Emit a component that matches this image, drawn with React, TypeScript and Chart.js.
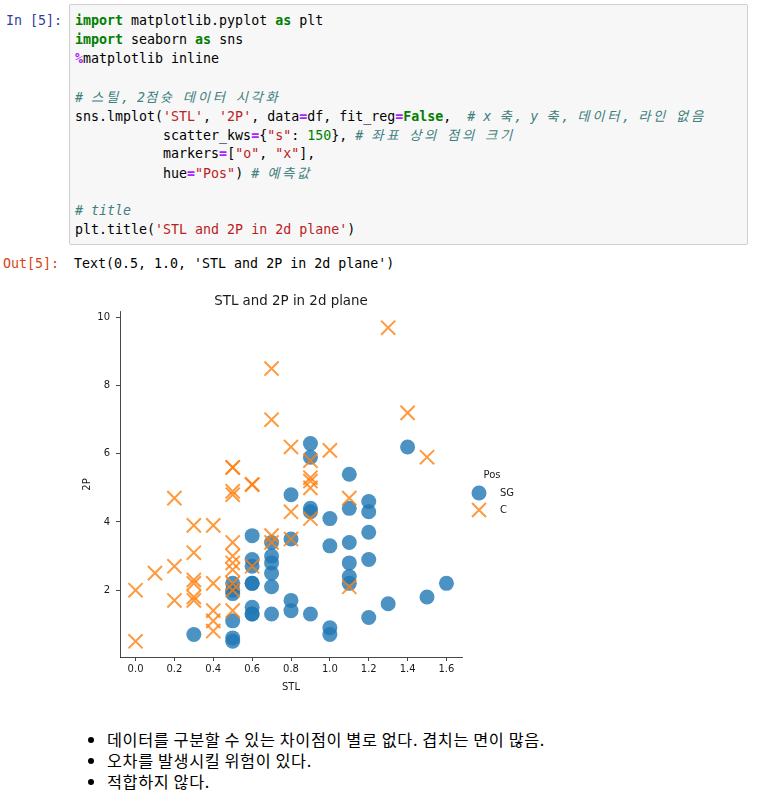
import React, { useEffect, useRef } from "react";
import { Chart, registerables } from "chart.js";

Chart.register(...registerables);

// ---------------- data ----------------
const sgSTL = [
  0.3,
  0.5, 0.5, 0.5, 0.5, 0.5, 0.5,
  0.6, 0.6, 0.6, 0.6, 0.6, 0.6, 0.6, 0.6,
  0.7, 0.7, 0.7, 0.7, 0.7, 0.7,
  0.8, 0.8, 0.8, 0.8,
  0.9, 0.9, 0.9, 0.9, 0.9,
  1.0, 1.0, 1.0, 1.0,
  1.1, 1.1, 1.1, 1.1, 1.1, 1.1,
  1.2, 1.2, 1.2, 1.2, 1.2,
  1.3, 1.4, 1.5, 1.6,
];
const sg2P = [
  0.7,
  2.2, 2.0, 1.9, 1.1, 0.6, 0.5,
  3.6, 2.9, 2.7, 2.2, 2.2, 1.5, 1.3, 1.3,
  3.4, 3.0, 2.8, 2.5, 2.1, 1.3,
  4.8, 3.5, 1.7, 1.4,
  6.3, 5.9, 4.4, 4.3, 1.3,
  4.1, 3.3, 0.9, 0.7,
  5.4, 4.4, 3.4, 2.8, 2.4, 2.2,
  4.6, 4.3, 3.7, 2.9, 1.2,
  1.6, 6.2, 1.8, 2.2,
];
const cSTL = [
  0.0, 0.0,
  0.1,
  0.2, 0.2, 0.2,
  0.3, 0.3, 0.3, 0.3, 0.3, 0.3,
  0.4, 0.4, 0.4, 0.4, 0.4,
  0.5, 0.5, 0.5, 0.5, 0.5, 0.5, 0.5, 0.5, 0.5, 0.5, 0.5,
  0.6, 0.6, 0.6,
  0.7, 0.7, 0.7, 0.7,
  0.8, 0.8, 0.8,
  0.9, 0.9, 0.9, 0.9, 0.9,
  1.0,
  1.1, 1.1,
  1.3, 1.4, 1.5,
];
const c2P = [
  2.0, 0.5,
  2.5,
  4.7, 2.7, 1.7,
  3.9, 3.1, 2.3, 2.2, 1.8, 1.7,
  3.9, 2.2, 1.4, 1.1, 0.8,
  5.6, 5.6, 4.9, 4.8, 3.4, 3.0, 2.8, 2.6, 2.2, 2.0, 1.4,
  5.1, 5.1, 2.7,
  8.5, 7.0, 3.6, 3.4,
  6.2, 4.3, 3.5,
  5.8, 5.3, 5.2, 5.0, 4.1,
  6.1,
  4.7, 2.1,
  9.7, 7.2, 5.9,
];
const seriesLabels = ["SG", "C"];
const legendTitle = "Pos";
const chartTitle = "STL and 2P in 2d plane";
const xTitle = "STL";
const yTitle = "2P";
const xTicks = [0.0, 0.2, 0.4, 0.6, 0.8, 1.0, 1.2, 1.4, 1.6];
const yTicks = [2, 4, 6, 8, 10];

// ---------------- styles ----------------
const SG_COLOR = "rgba(31,119,180,0.8)";
const C_COLOR = "rgba(255,127,14,0.8)";
const TEXT = "#1a1a1a";
const AXIS = "#1a1a1a";
const MPL_FONT = "'DejaVu Sans', sans-serif";
const MONO = "'DejaVu Sans Mono', monospace";
const CODE_SIZE = 13.3;
const HANGUL_LS = 2.7;

const legendPlugin = {
  id: "posLegend",
  afterDraw(chart: any) {
    const { ctx, chartArea } = chart;
    const cy = (chartArea.top + chartArea.bottom) / 2;
    const mx = chartArea.right + 17;
    ctx.save();
    ctx.font = "10px 'DejaVu Sans'";
    ctx.fillStyle = TEXT;
    ctx.textBaseline = "middle";
    ctx.textAlign = "center";
    ctx.fillText(legendTitle, chartArea.right + 30, cy - 9.5);
    ctx.textAlign = "left";
    chart.data.datasets.forEach((ds: any, i: number) => {
      const y = cy + 8.5 + i * 17;
      if (ds.pointStyle === "circle") {
        ctx.beginPath();
        ctx.arc(mx, y, 7.5, 0, Math.PI * 2);
        ctx.fillStyle = ds.pointBackgroundColor;
        ctx.fill();
      } else {
        ctx.beginPath();
        ctx.moveTo(mx - 7, y - 7);
        ctx.lineTo(mx + 7, y + 7);
        ctx.moveTo(mx + 7, y - 7);
        ctx.lineTo(mx - 7, y + 7);
        ctx.lineWidth = 2;
        ctx.strokeStyle = ds.pointBorderColor;
        ctx.stroke();
      }
      ctx.fillStyle = TEXT;
      ctx.fillText(ds.label, chartArea.right + 38, y);
    });
    ctx.restore();
  },
};

function ScatterChart() {
  const ref = useRef<HTMLCanvasElement | null>(null);
  useEffect(() => {
    if (!ref.current) return;
    const tickFont = { family: MPL_FONT, size: 10 };
    const gridOpts = {
      display: true,
      drawOnChartArea: false,
      drawTicks: true,
      tickLength: 4,
      color: AXIS,
      lineWidth: 0.8,
    };
    const chart = new Chart(ref.current, {
      type: "scatter",
      data: {
        datasets: [
          {
            label: seriesLabels[0],
            data: sgSTL.map((x, i) => ({ x, y: sg2P[i] })),
            pointStyle: "circle",
            pointRadius: 7.5,
            pointHoverRadius: 7.5,
            pointBorderWidth: 0,
            pointBackgroundColor: SG_COLOR,
            pointBorderColor: SG_COLOR,
            backgroundColor: SG_COLOR,
            borderColor: SG_COLOR,
            order: 1,
            clip: false,
          } as any,
          {
            label: seriesLabels[1],
            data: cSTL.map((x, i) => ({ x, y: c2P[i] })),
            pointStyle: "crossRot",
            pointRadius: 10,
            pointHoverRadius: 10,
            pointBorderWidth: 2,
            pointBackgroundColor: C_COLOR,
            pointBorderColor: C_COLOR,
            backgroundColor: C_COLOR,
            borderColor: C_COLOR,
            order: 0,
            clip: false,
          } as any,
        ],
      },
      options: {
        animation: false,
        responsive: true,
        maintainAspectRatio: false,
        events: [],
        layout: { padding: { left: 0, right: 68, top: 0, bottom: 0 } },
        plugins: {
          legend: { display: false },
          tooltip: { enabled: false },
          title: {
            display: true,
            text: chartTitle,
            fullSize: false,
            align: "center",
            color: TEXT,
            font: { family: MPL_FONT, size: 13.4, weight: "normal" as any },
            padding: { top: 13.2, bottom: 2.7 },
          },
        },
        scales: {
          x: {
            type: "linear",
            min: -0.08,
            max: 1.68,
            afterBuildTicks: (s: any) => {
              s.ticks = xTicks.map((v) => ({ value: v }));
            },
            afterFit: (s: any) => {
              s.height = 53;
            },
            ticks: {
              callback: (v: any) => Number(v).toFixed(1),
              color: TEXT,
              font: tickFont,
              padding: 2,
              maxRotation: 0,
              autoSkip: false,
            },
            grid: gridOpts,
            border: { display: true, color: AXIS, width: 0.8 },
            title: {
              display: true,
              text: xTitle,
              color: TEXT,
              font: tickFont,
              padding: { top: 0, bottom: 17 },
            },
          },
          y: {
            type: "linear",
            min: 0.04,
            max: 10.16,
            afterBuildTicks: (s: any) => {
              s.ticks = yTicks.map((v) => ({ value: v }));
            },
            afterFit: (s: any) => {
              s.width = 60;
            },
            ticks: {
              callback: (v: any) => String(v),
              color: TEXT,
              font: tickFont,
              padding: 6,
              autoSkip: false,
            },
            grid: gridOpts,
            border: { display: true, color: AXIS, width: 0.8 },
            title: {
              display: true,
              text: yTitle,
              color: TEXT,
              font: tickFont,
              padding: { top: 21, bottom: 0 },
            },
          },
        },
      } as any,
      plugins: [legendPlugin],
    });
    return () => chart.destroy();
  }, []);
  return <canvas ref={ref} />;
}

// ---------------- notebook code cell ----------------
type Seg = [string, string?];
const codeLines: Seg[][] = [
  [["import", "kw"], [" matplotlib.pyplot "], ["as", "kw"], [" plt"]],
  [["import", "kw"], [" seaborn "], ["as", "kw"], [" sns"]],
  [["%", "magic"], ["matplotlib inline"]],
  [],
  [["# 스틸, 2점슛 데이터 시각화", "com"]],
  [
    ["sns.lmplot("], ["'STL'", "str"], [", "], ["'2P'", "str"], [", data"], ["=", "op"],
    ["df, fit_reg"], ["=", "op"], ["False", "kw"], [",  "], ["# x 축, y 축, 데이터, 라인 없음", "com"],
  ],
  [["           scatter_kws"], ["=", "op"], ["{"], ['"s"', "str"], [": "], ["150", "num"], ["}, "], ["# 좌표 상의 점의 크기", "com"]],
  [["           markers"], ["=", "op"], ["["], ['"o"', "str"], [", "], ['"x"', "str"], ["],"]],
  [["           hue"], ["=", "op"], ['"Pos"', "str"], [") "], ["# 예측값", "com"]],
  [],
  [["# title", "com"]],
  [["plt.title("], ["'STL and 2P in 2d plane'", "str"], [")"]],
];

const tokenStyle: Record<string, React.CSSProperties> = {
  kw: { color: "#008000", fontWeight: "bold" },
  magic: { color: "#AA22FF", fontWeight: "bold" },
  com: { color: "#408080", fontStyle: "italic" },
  str: { color: "#BA2121" },
  op: { color: "#AA22FF", fontWeight: "bold" },
  num: { color: "#008000" },
};

function withHangul(t: string) {
  const parts = t.split(/([\uAC00-\uD7A3\u3131-\u318E]+)/);
  return parts.map((p, i) =>
    i % 2 === 1 ? (
      <span key={i} style={{ letterSpacing: HANGUL_LS, fontFamily: "'Noto Sans CJK KR', sans-serif" }}>
        {p}
      </span>
    ) : (
      <React.Fragment key={i}>{p}</React.Fragment>
    )
  );
}

const bullets = [
  "데이터를 구분할 수 있는 차이점이 별로 없다. 겹치는 면이 많음.",
  "오차를 발생시킬 위험이 있다.",
  "적합하지 않다.",
];

export default function App() {
  return (
    <div
      style={{
        position: "absolute",
        left: 0,
        top: 0,
        width: 766,
        height: 799,
        background: "#fff",
        overflow: "hidden",
      }}
    >
      <div
        style={{
          position: "absolute",
          left: 6,
          top: 10.5,
          fontFamily: MONO,
          fontSize: CODE_SIZE,
          lineHeight: "19px",
          color: "#303F9F",
          whiteSpace: "pre",
        }}
      >
        In [5]:
      </div>
      <div
        style={{
          position: "absolute",
          left: 69,
          top: 4,
          width: 677,
          height: 239,
          background: "#f7f7f7",
          border: "1px solid #cfcfcf",
          borderRadius: 2,
        }}
      >
        <div
          style={{
            position: "absolute",
            left: 5,
            top: 5.5,
            fontFamily: MONO,
            fontSize: CODE_SIZE,
            lineHeight: "19px",
            color: "#000",
            whiteSpace: "pre",
          }}
        >
          {codeLines.map((line, li) => (
            <div key={li} style={{ height: 19 }}>
              {line.map(([t, k], si) => (
                <span key={si} style={k ? tokenStyle[k] : undefined}>
                  {withHangul(t)}
                </span>
              ))}
            </div>
          ))}
        </div>
      </div>
      <div
        style={{
          position: "absolute",
          left: 3,
          top: 253.5,
          fontFamily: MONO,
          fontSize: CODE_SIZE,
          lineHeight: "19px",
          color: "#D84315",
          whiteSpace: "pre",
        }}
      >
        Out[5]:
      </div>
      <div
        style={{
          position: "absolute",
          left: 74,
          top: 253.5,
          fontFamily: MONO,
          fontSize: CODE_SIZE,
          lineHeight: "19px",
          color: "#000",
          whiteSpace: "pre",
        }}
      >
        Text(0.5, 1.0, 'STL and 2P in 2d plane')
      </div>
      <div style={{ position: "absolute", left: 60, top: 280, width: 470, height: 430 }}>
        <ScatterChart />
      </div>
      <ul
        style={{
          position: "absolute",
          left: 67,
          top: 728.5,
          margin: 0,
          paddingLeft: 40,
          fontFamily: "'Noto Sans CJK KR', sans-serif",
          fontSize: 16.3,
          letterSpacing: 0.6,
          lineHeight: "21px",
          color: "#000",
        }}
      >
        {bullets.map((b, i) => (
          <li key={i}>{b}</li>
        ))}
      </ul>
    </div>
  );
}
